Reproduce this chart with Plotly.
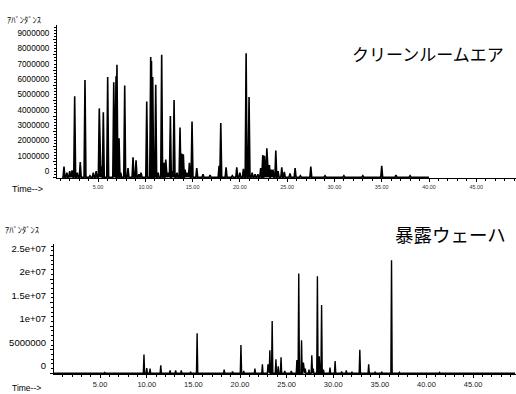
import plotly.graph_objects as go

# ---------------- data ----------------
# Upper chromatogram: クリーンルームエア  (time [min], abundance)
air_times = [1.4, 1.7, 2.0, 2.25, 2.53, 2.8, 3.12, 3.62, 4.15, 4.5, 4.8, 5.13, 5.4, 5.56,
             6.02, 6.66, 6.9, 7.0, 7.22, 7.4, 7.82, 8.17, 8.7, 9.02, 9.33, 9.55, 10.15,
             10.57, 10.65, 10.78, 11.1, 11.35, 11.73, 11.98, 12.16, 12.4, 12.65, 12.8,
             13.04, 13.35, 13.67, 13.85, 14.02, 14.2, 14.4, 14.66, 14.94, 15.44, 16.1,
             16.85, 17.8, 17.98, 18.54, 19.2, 19.67, 20.0, 20.37, 20.66, 20.97, 21.3,
             21.6, 21.9, 22.2, 22.42, 22.6, 22.85, 23.12, 23.3, 23.5, 23.8, 24.04, 24.43,
             24.7, 25.3, 25.84, 26.4, 27.5, 29.0, 31.0, 33.0, 35.0, 36.5, 38.0]
air_values = [0.7e6, 0.3e6, 0.4e6, 0.45e6, 5.3e6, 0.3e6, 1.0e6, 6.35e6, 0.1e6, 0.3e6,
              0.4e6, 4.5e6, 0.7e6, 4.25e6, 6.55e6, 6.2e6, 6.6e6, 7.35e6, 2.55e6, 0.3e6,
              6.0e6, 0.6e6, 1.3e6, 1.1e6, 0.2e6, 0.3e6, 4.95e6, 7.85e6, 7.6e6, 6.55e6,
              6.05e6, 0.3e6, 8.0e6, 0.95e6, 1.15e6, 0.3e6, 4.0e6, 0.4e6, 5.05e6, 0.3e6,
              3.25e6, 1.55e6, 1.5e6, 0.5e6, 0.3e6, 0.95e6, 3.65e6, 0.6e6, 0.2e6, 0.15e6,
              0.75e6, 3.55e6, 0.65e6, 0.1e6, 0.65e6, 0.3e6, 0.55e6, 8.1e6, 5.25e6, 0.3e6,
              0.2e6, 0.2e6, 0.6e6, 1.45e6, 1.4e6, 1.9e6, 0.8e6, 0.5e6, 0.5e6, 1.75e6,
              0.4e6, 0.65e6, 0.35e6, 0.25e6, 0.6e6, 0.1e6, 0.7e6, 0.1e6, 0.1e6, 0.1e6,
              0.75e6, 0.15e6, 0.1e6]
air_start, air_end = 1.2, 40.0

# Lower chromatogram: 暴露ウェーハ
wafer_times = [5.5, 9.7, 10.0, 10.35, 11.5, 12.5, 13.1, 13.7, 14.7, 15.4, 18.3, 19.2,
               20.1, 20.4, 21.6, 22.4, 23.0, 23.2, 23.45, 23.85, 24.1, 24.4, 24.8, 25.5,
               26.1, 26.3, 26.6, 26.8, 27.0, 27.4, 27.7, 27.85, 28.3, 28.5, 28.75, 28.95,
               29.65, 30.2, 30.9, 31.4, 32.0, 32.85, 33.8, 34.5, 35.2, 36.25, 37.1, 41.4]
wafer_values = [0.2e6, 4.0e6, 1.1e6, 1.0e6, 1.7e6, 0.6e6, 0.6e6, 0.6e6, 0.3e6, 8.5e6,
                0.8e6, 0.4e6, 6.0e6, 0.5e6, 1.0e6, 1.9e6, 1.9e6, 4.9e6, 11.1e6, 3.0e6,
                1.5e6, 3.4e6, 0.5e6, 0.5e6, 2.8e6, 21.2e6, 7.0e6, 2.3e6, 1.0e6, 0.8e6,
                3.8e6, 1.0e6, 20.6e6, 3.6e6, 14.5e6, 0.8e6, 1.2e6, 2.6e6, 0.4e6, 0.6e6,
                0.3e6, 5.0e6, 1.9e6, 0.3e6, 0.3e6, 24.0e6, 0.2e6, 0.2e6]
wafer_start, wafer_end = 0.0, 49.5

air_yticks = [0, 1e6, 2e6, 3e6, 4e6, 5e6, 6e6, 7e6, 8e6, 9e6]
air_yticklabels = ["0", "1000000", "2000000", "3000000", "4000000", "5000000",
                   "6000000", "7000000", "8000000", "9000000"]
wafer_yticks = [0, 5e6, 1e7, 1.5e7, 2e7, 2.5e7]
wafer_yticklabels = ["0", "5000000", "1e+07", "1.5e+07", "2e+07", "2.5e+07"]


def spikes(times, values, start, end, half):
    xs, ys = [start], [0]
    for t, v in zip(times, values):
        xs += [t - half, t, t + half]
        ys += [0, v, 0]
    xs.append(end)
    ys.append(0)
    return xs, ys


W, H = 516, 394
fig = go.Figure()

ax, ay = spikes(air_times, air_values, air_start, air_end, 0.1)
fig.add_trace(go.Scatter(x=ax, y=ay, mode="lines", line=dict(color="black", width=1.6),
                         fill="tozeroy", fillcolor="black", xaxis="x", yaxis="y",
                         hoverinfo="skip", showlegend=False))
wx, wy = spikes(wafer_times, wafer_values, wafer_start, wafer_end, 0.07)
fig.add_trace(go.Scatter(x=wx, y=wy, mode="lines", line=dict(color="black", width=1.4),
                         xaxis="x2", yaxis="y2", hoverinfo="skip", showlegend=False))

FONT = "Liberation Sans, Arial, Helvetica, sans-serif"
JP = "Noto Sans CJK JP, sans-serif"


def px(x):
    return x / W


def py(y):
    return 1 - y / H


common_x = dict(showgrid=False, zeroline=False, showline=True, linecolor="black", linewidth=1,
                ticks="outside", ticklen=3, tickcolor="black", dtick=5, tick0=0,
                tickformat=".2f", automargin=False,
                minor=dict(ticks="outside", ticklen=2, dtick=1, tickcolor="black", showgrid=False))
common_y = dict(showgrid=False, zeroline=False, showline=True, linecolor="black", linewidth=1,
                ticks="outside", ticklen=3, tickcolor="black", automargin=False,
                ticklabelposition="outside top", ticklabelstandoff=5)

fig.update_layout(
    width=W, height=H, margin=dict(l=0, r=0, t=0, b=0),
    paper_bgcolor="white", plot_bgcolor="white",
    font=dict(family=FONT, color="black"),
    xaxis=dict(common_x, domain=[px(57), 1], range=[0.66, 49.2], anchor="y",
               tickfont=dict(size=5.5, color="#333")),
    yaxis=dict(common_y, domain=[py(178), py(25)], range=[-0.05e6, 9.95e6], anchor="x",
               tickvals=air_yticks, ticktext=air_yticklabels,
               tickfont=dict(size=8.2),
               minor=dict(ticks="outside", ticklen=2, dtick=2e5, tick0=0, tickcolor="black")),
    xaxis2=dict(common_x, domain=[px(54), 1], range=[0.05, 49.6], anchor="y2",
                tickfont=dict(size=7.5, color="#222")),
    yaxis2=dict(common_y, domain=[py(374), py(244)], range=[-0.15e6, 2.745e7], anchor="x2",
                tickvals=wafer_yticks, ticktext=wafer_yticklabels,
                tickfont=dict(size=9.5),
                minor=dict(ticks="outside", ticklen=2, dtick=1e6, tick0=0, tickcolor="black")),
    annotations=[
        dict(text="ｱﾊﾞﾝﾀﾞﾝｽ", x=px(5), y=py(19), xref="paper", yref="paper",
             xanchor="left", yanchor="middle", showarrow=False,
             font=dict(family=JP, size=8.5)),
        dict(text="ｱﾊﾞﾝﾀﾞﾝｽ", x=px(3), y=py(229), xref="paper", yref="paper",
             xanchor="left", yanchor="middle", showarrow=False,
             font=dict(family=JP, size=8.5)),
        dict(text="クリーンルームエア", x=px(506), y=py(53), xref="paper", yref="paper",
             xanchor="right", yanchor="middle", showarrow=False,
             font=dict(family=JP, size=17)),
        dict(text="暴露ウェーハ", x=px(508), y=py(234), xref="paper", yref="paper",
             xanchor="right", yanchor="middle", showarrow=False,
             font=dict(family=JP, size=18.5)),
        dict(text="Time-->", x=px(10), y=py(189), xref="paper", yref="paper",
             xanchor="left", yanchor="middle", showarrow=False,
             font=dict(family=FONT, size=9)),
        dict(text="Time-->", x=px(10), y=py(388), xref="paper", yref="paper",
             xanchor="left", yanchor="middle", showarrow=False,
             font=dict(family=FONT, size=8.5)),
    ],
)

fig.write_html("out.html", config={"displayModeBar": False},
               post_script="document.body.style.margin='0';document.body.style.overflow='hidden';")
